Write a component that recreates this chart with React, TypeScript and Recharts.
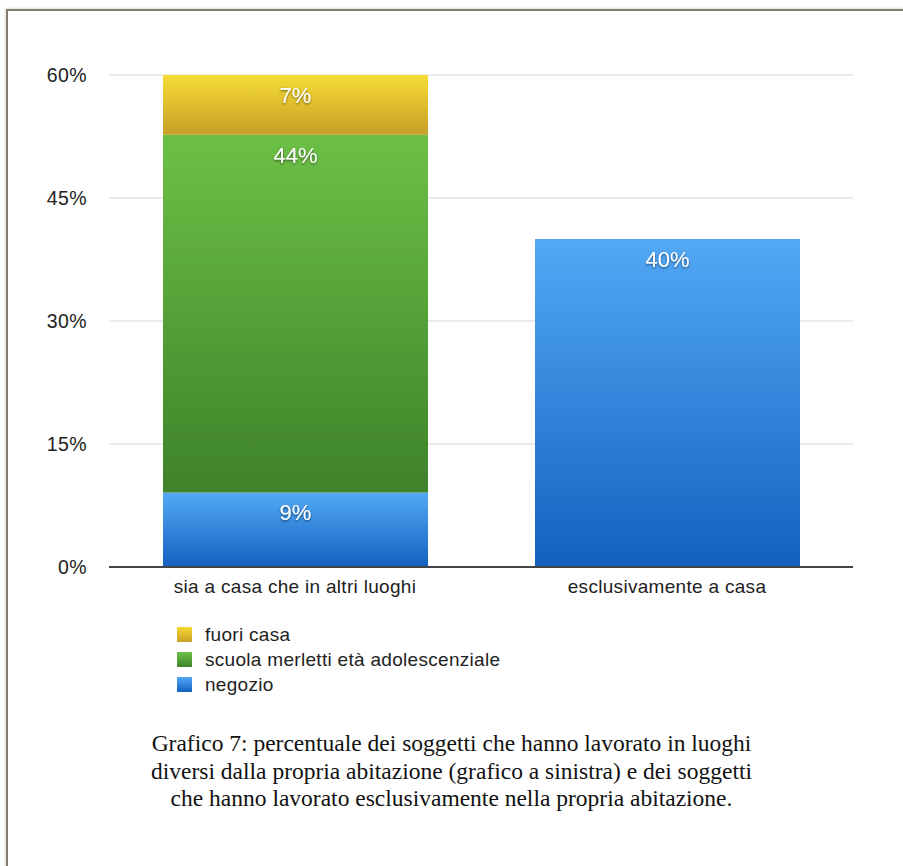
import React from "react";
import { BarChart, Bar, XAxis, YAxis, CartesianGrid, Legend, LabelList } from "recharts";

const categories = ["sia a casa che in altri luoghi", "esclusivamente a casa"];
const negozio = [9.1, 40];
const scuola = [43.6, null];
const fuoriCasa = [7.3, null];
const yTicks = [0, 15, 30, 45, 60];
const caption = [
  "Grafico 7: percentuale dei soggetti che hanno lavorato in luoghi",
  "diversi dalla propria abitazione (grafico a sinistra) e dei soggetti",
  "che hanno lavorato esclusivamente nella propria abitazione.",
];

const data = categories.map((c, i) => ({
  name: c,
  negozio: negozio[i],
  scuola: scuola[i],
  fuori: fuoriCasa[i],
}));

const legendItems = [
  { label: "fuori casa", from: "#f4d832", to: "#c9a22a" },
  { label: "scuola merletti età adolescenziale", from: "#6cc046", to: "#3f832a" },
  { label: "negozio", from: "#52a9f5", to: "#1460c0" },
];

const SANS = "'Liberation Sans', Arial, Helvetica, sans-serif";

const renderLabel = (props: any) => {
  const { x, y, width, value } = props;
  if (value === null || value === undefined || value === 0) return null;
  return (
    <text
      x={Number(x) + Number(width) / 2}
      y={Number(y) + 22}
      textAnchor="middle"
      dominantBaseline="middle"
      fill="#ffffff"
      fontSize={22}
      fontFamily={SANS}
      filter="url(#txtShadow)"
    >
      {Math.round(Number(value))}%
    </text>
  );
};

const renderLegend = () => (
  <div style={{ fontFamily: SANS, fontSize: 19, letterSpacing: 0.3, color: "#222" }}>
    {legendItems.map((it) => (
      <div key={it.label} style={{ display: "flex", alignItems: "center", height: 25 }}>
        <span
          style={{
            display: "inline-block",
            width: 15,
            height: 15,
            background: `linear-gradient(${it.from}, ${it.to})`,
            marginRight: 13,
          }}
        />
        <span>{it.label}</span>
      </div>
    ))}
  </div>
);

export default function App() {
  return (
    <div style={{ position: "absolute", top: 0, left: 0, width: 903, height: 866, background: "#fff", overflow: "hidden" }}>
      <div
        style={{
          position: "absolute",
          top: 9,
          left: 6,
          width: 910,
          height: 870,
          borderTop: "2px solid #857d74",
          borderLeft: "2px solid #857d74",
          boxShadow: "-1px -1px 2px rgba(0,0,0,0.12)",
        }}
      />
      <div style={{ position: "absolute", top: 0, left: 0 }}>
        <BarChart
          width={903}
          height={866}
          data={data}
          margin={{ top: 75, right: 50, left: 0, bottom: 246 }}
        >
          <defs>
            <linearGradient id="gYellow" x1="0" y1="0" x2="0" y2="1">
              <stop offset="0%" stopColor="#f6dc34" />
              <stop offset="100%" stopColor="#c79f28" />
            </linearGradient>
            <linearGradient id="gGreen" x1="0" y1="0" x2="0" y2="1">
              <stop offset="0%" stopColor="#6cc046" />
              <stop offset="100%" stopColor="#3e822a" />
            </linearGradient>
            <linearGradient id="gBlue" x1="0" y1="0" x2="0" y2="1">
              <stop offset="0%" stopColor="#52a9f5" />
              <stop offset="100%" stopColor="#1460c0" />
            </linearGradient>
            <filter id="txtShadow" x="-20%" y="-30%" width="140%" height="170%">
              <feDropShadow dx="0" dy="1.2" stdDeviation="1" floodColor="#000" floodOpacity="0.55" />
            </filter>
          </defs>
          <CartesianGrid vertical={false} stroke="#e4e4e4" strokeWidth={1.5} />
          <XAxis
            dataKey="name"
            height={53}
            axisLine={{ stroke: "#444", strokeWidth: 2 }}
            tickLine={false}
            tickSize={0}
            tickMargin={13}
            tick={{ fill: "#222", fontSize: 19, fontFamily: SANS, letterSpacing: 0.3 }}
          />
          <YAxis
            width={109}
            domain={[0, 60]}
            ticks={yTicks}
            tickFormatter={(v: number) => `${v}%`}
            axisLine={false}
            tickLine={false}
            tickSize={0}
            tickMargin={22}
            tick={{ fill: "#222", fontSize: 19.5, fontFamily: SANS, letterSpacing: 0.4 }}
          />
          <Legend
            layout="vertical"
            align="center"
            verticalAlign="middle"
            content={renderLegend}
            wrapperStyle={{ left: 177, top: 622, width: "auto" }}
          />
          <Bar dataKey="negozio" stackId="a" fill="url(#gBlue)" barSize={265} isAnimationActive={false}>
            <LabelList dataKey="negozio" content={renderLabel} />
          </Bar>
          <Bar dataKey="scuola" stackId="a" fill="url(#gGreen)" barSize={265} isAnimationActive={false}>
            <LabelList dataKey="scuola" content={renderLabel} />
          </Bar>
          <Bar dataKey="fuori" stackId="a" fill="url(#gYellow)" barSize={265} isAnimationActive={false}>
            <LabelList dataKey="fuori" content={renderLabel} />
          </Bar>
        </BarChart>
      </div>
      <div
        style={{
          position: "absolute",
          top: 730,
          left: 0,
          width: 903,
          textAlign: "center",
          fontFamily: "'Liberation Serif', 'Times New Roman', serif",
          fontSize: 23.5,
          lineHeight: "27.5px",
          color: "#111",
        }}
      >
        {caption.map((l) => (
          <div key={l}>{l}</div>
        ))}
      </div>
    </div>
  );
}
